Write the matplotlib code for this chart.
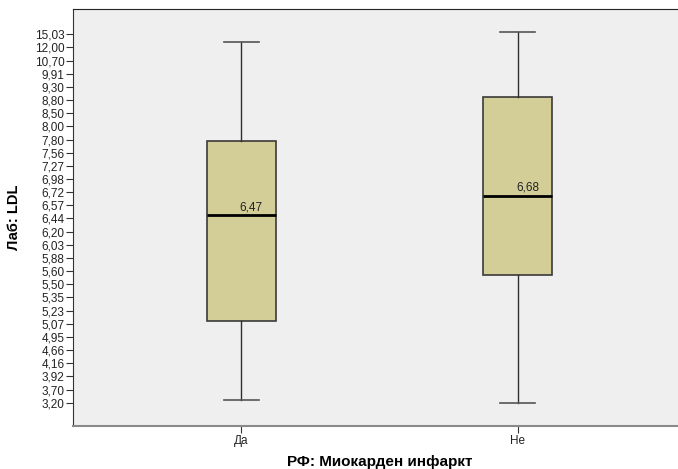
import numpy as np
import matplotlib
matplotlib.use("Agg")
import matplotlib.pyplot as plt

plt.rcParams['font.family'] = ['Liberation Sans', 'DejaVu Sans']

# Ordinal LDL axis as shown by SPSS (equal spacing between listed values)
tick_values = [3.20, 3.70, 3.92, 4.16, 4.66, 4.95, 5.07, 5.23, 5.35, 5.50,
               5.60, 5.88, 6.03, 6.20, 6.44, 6.57, 6.72, 6.98, 7.27, 7.56,
               7.80, 8.00, 8.50, 8.80, 9.30, 9.91, 10.70, 12.00, 15.03]

groups = ['Да', 'Не']
whisker_low = [3.30, 3.20]
q1 = [5.10, 5.57]
medians = [6.47, 6.68]
q3 = [7.77, 8.90]
whisker_high = [13.24, 15.60]

tv = np.array(tick_values)
ix = np.arange(len(tv), dtype=float)


def forward(v):
    v = np.asarray(v, dtype=float)
    out = np.interp(v, tv, ix)
    out = np.where(v < tv[0], (v - tv[0]) / (tv[1] - tv[0]), out)
    out = np.where(v > tv[-1], ix[-1] + (v - tv[-1]) / (tv[-1] - tv[-2]), out)
    return out


def inverse(i):
    i = np.asarray(i, dtype=float)
    out = np.interp(i, ix, tv)
    out = np.where(i < 0, tv[0] + i * (tv[1] - tv[0]), out)
    out = np.where(i > ix[-1], tv[-1] + (i - ix[-1]) * (tv[-1] - tv[-2]), out)
    return out


W, H = 678, 469
fig = plt.figure(figsize=(W / 100, H / 100), dpi=100)
# plot area: x 73..686 px (runs off the right edge), y 9..426 px
ax = fig.add_axes([73 / W, (H - 426) / H, (686 - 73) / W, (426 - 9) / H])
ax.set_facecolor('#efefef')

stats = []
for g, lo, a, m, b, hi in zip(groups, whisker_low, q1, medians, q3, whisker_high):
    stats.append({'label': g, 'whislo': lo, 'q1': a, 'med': m, 'q3': b,
                  'whishi': hi, 'fliers': []})

ax.set_yscale('function', functions=(forward, inverse))

ax.bxp(stats, positions=[0, 1], widths=0.249, capwidths=0.126,
       showfliers=False, patch_artist=True,
       boxprops=dict(facecolor='#d3ce98', edgecolor='#3a3a3a', linewidth=1.2),
       medianprops=dict(color='black', linewidth=2.0),
       whiskerprops=dict(color='#2e2e2e', linewidth=1.0),
       capprops=dict(color='#555555', linewidth=1.2))

for x, m in zip([0, 1], medians):
    ax.annotate(f'{m:.2f}'.replace('.', ','), xy=(x, m), xytext=(7, 1.5),
                textcoords='offset points', ha='center', va='bottom',
                fontsize=8.5, color='#222222')

ax.set_xlim(-0.607, 1.607)
ax.set_ylim(inverse(-1.77), inverse(29.92))
ax.set_yticks(tick_values)
ax.set_yticklabels([f'{v:.2f}'.replace('.', ',') for v in tick_values])
ax.yaxis.set_minor_locator(matplotlib.ticker.NullLocator())
ax.set_xticks([0, 1])
ax.set_xticklabels(groups)

ax.tick_params(axis='y', length=5, width=0.8, color='#333333',
               labelsize=8.5, labelcolor='#222222', pad=1)
ax.tick_params(axis='x', length=5, width=0.8, color='#333333',
               labelsize=8.5, labelcolor='#222222', pad=1.5)

ax.spines['top'].set_color('#222222')
ax.spines['left'].set_color('#333333')
ax.spines['bottom'].set_color('#8a8a8a')
ax.spines['bottom'].set_linewidth(1.5)
ax.spines['right'].set_visible(False)

ax.set_ylabel('Лаб: LDL', fontsize=10.5, fontweight='bold')
ax.yaxis.set_label_coords(-(73 - 21) / (686 - 73), 0.5)
ax.set_xlabel('РФ: Миокарден инфаркт', fontsize=11, fontweight='bold')
ax.xaxis.set_label_coords(0.5, -(455 - 426) / (426 - 9))

fig.savefig('out.png', dpi=100)
